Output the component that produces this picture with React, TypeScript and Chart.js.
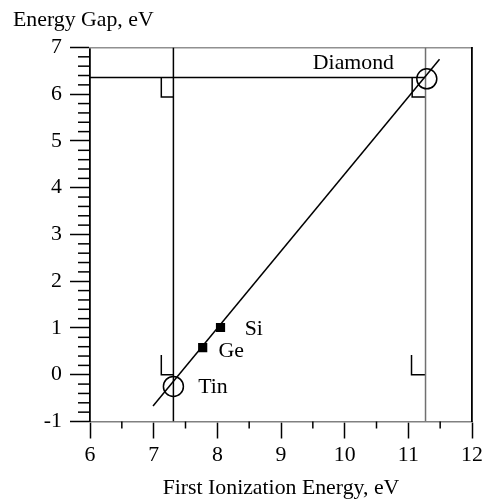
import React, { useEffect, useRef } from "react";
import { Chart, registerables } from "chart.js";

Chart.register(...registerables);

// ---- data ----
const xTicks = [6, 7, 8, 9, 10, 11, 12];
const yTicks = [-1, 0, 1, 2, 3, 4, 5, 6, 7];
const xMinorTicks = [6.5, 7.5, 8.5, 9.5, 10.5, 11.5];
const yMinorTicks = [
  -0.8, -0.6, -0.4, -0.2, 0.2, 0.4, 0.6, 0.8, 1.2, 1.4, 1.6, 1.8, 2.2, 2.4, 2.6, 2.8,
  3.2, 3.4, 3.6, 3.8, 4.2, 4.4, 4.6, 4.8, 5.2, 5.4, 5.6, 5.8, 6.2, 6.4, 6.6, 6.8,
];

const circleNames = ["Tin", "Diamond"];
const circleIonization = [7.31, 11.29];
const circleGap = [-0.25, 6.33];

const squareNames = ["Ge", "Si"];
const squareIonization = [7.77, 8.05];
const squareGap = [0.58, 1.01];

const fitLineX = [6.99, 11.49];
const fitLineY = [-0.67, 6.75];

const tinIE = 7.31;
const diamondIE = 11.27;
const diamondGap = 6.36;

// right-angle marks (x values, y values)
const markTopLeftX = [7.12, 7.12, 7.31];
const markTopLeftY = [6.36, 5.94, 5.94];
const markTopRightX = [11.06, 11.06, 11.27];
const markTopRightY = [6.36, 5.94, 5.94];
const markBottomLeftX = [7.12, 7.12, 7.31];
const markBottomLeftY = [0.42, 0.0, 0.0];
const markBottomRightX = [11.05, 11.05, 11.27];
const markBottomRightY = [0.42, 0.0, 0.0];

const labelTexts = ["Diamond", "Si", "Ge", "Tin"];
const labelX = [9.5, 8.43, 8.02, 7.7];
const labelY = [6.53, 0.85, 0.38, -0.39];

const xMin = 6, xMax = 12, yMin = -1, yMax = 7;

const FONT_FAMILY = "'Liberation Serif', 'Times New Roman', serif";
const FONT_SIZE = 21.8;

const zip = (xs: number[], ys: number[]) => xs.map((x, i) => ({ x, y: ys[i] }));

export default function App() {
  const ref = useRef<HTMLCanvasElement>(null);

  useEffect(() => {
    if (!ref.current) return;
    const font = { family: FONT_FAMILY, size: FONT_SIZE };

    const line = (pts: { x: number; y: number }[], color: string, width: number) => ({
      data: pts,
      showLine: true,
      borderColor: color,
      borderWidth: width,
      pointRadius: 0,
      pointHoverRadius: 0,
      fill: false,
    });

    const extras = {
      id: "extras",
      afterDraw(chart: any) {
        const { ctx, chartArea } = chart;
        const x = chart.scales.x;
        const y = chart.scales.y;
        ctx.save();
        ctx.strokeStyle = "#000";
        ctx.lineWidth = 1.5;
        xMinorTicks.forEach((v) => {
          const px = x.getPixelForValue(v);
          ctx.beginPath();
          ctx.moveTo(px, chartArea.bottom);
          ctx.lineTo(px, chartArea.bottom + 7);
          ctx.stroke();
        });
        yMinorTicks.forEach((v) => {
          const py = y.getPixelForValue(v);
          ctx.beginPath();
          ctx.moveTo(chartArea.left - 12, py);
          ctx.lineTo(chartArea.left, py);
          ctx.stroke();
        });
        ctx.fillStyle = "#000";
        ctx.font = `${FONT_SIZE}px ${FONT_FAMILY}`;
        ctx.textAlign = "left";
        ctx.textBaseline = "alphabetic";
        labelTexts.forEach((t, i) => {
          ctx.fillText(t, x.getPixelForValue(labelX[i]), y.getPixelForValue(labelY[i]));
        });
        ctx.restore();
      },
    };

    const chart = new Chart(ref.current, {
      type: "scatter",
      data: {
        datasets: [
          {
            label: "circles",
            data: zip(circleIonization, circleGap),
            pointStyle: "circle",
            pointRadius: 10,
            pointBorderColor: "#000",
            pointBackgroundColor: "rgba(0,0,0,0)",
            pointBorderWidth: 1.5,
          } as any,
          {
            label: "squares",
            data: zip(squareIonization, squareGap),
            pointStyle: "rect",
            pointRadius: 6.5,
            pointBorderColor: "#000",
            pointBackgroundColor: "#000",
            pointBorderWidth: 0,
          },
          line(zip(fitLineX, fitLineY), "#000", 1.5),
          line(zip([tinIE, tinIE], [yMin, yMax]), "#000", 1.5),
          line(zip([diamondIE, diamondIE], [yMin, yMax]), "#707070", 1.5),
          line(zip([xMin, diamondIE], [diamondGap, diamondGap]), "#000", 1.5),
          line(zip(markTopLeftX, markTopLeftY), "#000", 1.5),
          line(zip(markTopRightX, markTopRightY), "#000", 1.5),
          line(zip(markBottomLeftX, markBottomLeftY), "#000", 1.5),
          line(zip(markBottomRightX, markBottomRightY), "#000", 1.5),
        ] as any,
      },
      options: {
        animation: false,
        responsive: true,
        maintainAspectRatio: false,
        layout: { padding: { left: 13, right: 16, top: 0, bottom: 0 } },
        plugins: {
          legend: { display: false },
          tooltip: { enabled: false },
          title: {
            display: true,
            text: "Energy Gap, eV",
            align: "start",
            color: "#000",
            font: { ...font, weight: "normal" },
            padding: { top: 7, bottom: 14.3 },
          },
        },
        scales: {
          x: {
            type: "linear",
            position: "bottom",
            min: xMin,
            max: xMax,
            afterBuildTicks: (s: any) => {
              s.ticks = xTicks.map((v) => ({ value: v }));
            },
            afterFit: (s: any) => {
              s.height = 79.5;
            },
            ticks: {
              color: "#000",
              font,
              padding: 4,
              autoSkip: false,
              maxRotation: 0,
              callback: (v: any) => String(v),
            },
            grid: {
              drawOnChartArea: false,
              drawTicks: true,
              tickLength: 17,
              tickColor: "#000",
              tickWidth: 1.5,
            },
            border: { display: true, color: "#808080", width: 1.5 },
            title: {
              display: true,
              text: "First Ionization Energy, eV",
              color: "#000",
              font,
              padding: { top: 0, bottom: 0 },
            },
          },
          y: {
            type: "linear",
            position: "left",
            min: yMin,
            max: yMax,
            afterBuildTicks: (s: any) => {
              s.ticks = yTicks.map((v) => ({ value: v }));
            },
            afterFit: (s: any) => {
              s.width = 77;
            },
            ticks: {
              color: "#000",
              font,
              padding: 8,
              autoSkip: false,
              callback: (v: any) => String(v),
            },
            grid: {
              drawOnChartArea: false,
              drawTicks: true,
              tickLength: 20,
              tickColor: "#000",
              tickWidth: 1.5,
            },
            border: { display: true, color: "#000", width: 1.8 },
          },
          x2: {
            type: "linear",
            position: "top",
            min: xMin,
            max: xMax,
            ticks: { display: false },
            grid: { drawOnChartArea: false, drawTicks: false },
            border: { display: true, color: "#909090", width: 1.5 },
            afterFit: (s: any) => {
              s.height = 0;
            },
          },
          y2: {
            type: "linear",
            position: "right",
            min: yMin,
            max: yMax,
            ticks: { display: false },
            grid: { drawOnChartArea: false, drawTicks: false },
            border: { display: true, color: "#000", width: 1.8 },
            afterFit: (s: any) => {
              s.width = 0;
            },
          },
        },
      } as any,
      plugins: [extras],
    });

    return () => chart.destroy();
  }, []);

  return (
    <div style={{ position: "fixed", left: 0, top: 0, width: 488, height: 501, background: "#fff" }}>
      <canvas ref={ref} />
    </div>
  );
}
